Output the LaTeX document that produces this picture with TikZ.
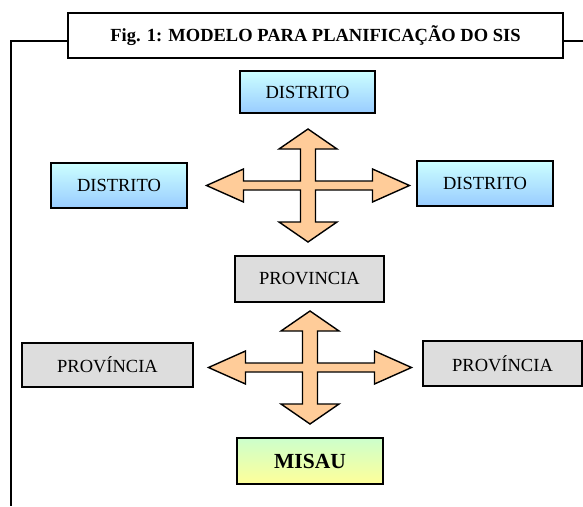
\documentclass[tikz,border=0pt]{standalone}
\usepackage{fontspec}
\setmainfont{Liberation Serif}
\definecolor{distTop}{HTML}{CCFFFF}
\definecolor{distBot}{HTML}{99CCFF}
\definecolor{provGray}{HTML}{DDDDDD}
\definecolor{misTop}{HTML}{CCFFCC}
\definecolor{misBot}{HTML}{FFFF99}
\definecolor{peach}{HTML}{FFCC99}
\tikzset{
  box/.style={draw=black, line width=1.8pt, rectangle, inner sep=0pt, font=\fontsize{18.5}{20}\selectfont},
  distbox/.style={box, top color=distTop, bottom color=distBot},
  provbox/.style={box, fill=provGray},
  misbox/.style={box, top color=misTop, bottom color=misBot, font=\fontsize{21.5}{24}\selectfont\bfseries},
  titlebox/.style={draw=black, line width=1.5pt, fill=white, rectangle, inner sep=0pt, font=\fontsize{18.5}{20}\selectfont\bfseries},
  frameline/.style={draw=black, line width=1.5pt},
  crossarrow/.pic={
    \filldraw[fill=peach, draw=black, line width=1.4pt, line join=miter]
      (0,-56.5) -- (29,-36.5) -- (7.5,-36.5) -- (7.5,-4.5) -- (64.5,-4.5) -- (64.5,-16.5)
      -- (101.5,0) -- (64.5,16.5) -- (64.5,4.5) -- (7.5,4.5) -- (7.5,36.5) -- (29,36.5)
      -- (0,56.5) -- (-29,36.5) -- (-7.5,36.5) -- (-7.5,4.5) -- (-64.5,4.5) -- (-64.5,16.5)
      -- (-101.5,0) -- (-64.5,-16.5) -- (-64.5,-4.5) -- (-7.5,-4.5) -- (-7.5,-36.5) -- (-29,-36.5)
      -- cycle;
  }
}
\begin{document}
\begin{tikzpicture}[x=1pt, y=-1pt]
\useasboundingbox (0,0) rectangle (583,506);
% frame
\coordinate (fl) at (11,41);
\coordinate (fb) at (11,506);
\coordinate (fr) at (583,41);
\node[titlebox, minimum width=495pt, minimum height=45pt] (title) at (315.5,35.5) {Fig. 1: MODELO PARA PLANIFICAÇÃO DO SIS};
\draw[frameline] (title.west |- fl) -- (fl) -- (fb);
\draw[frameline] (title.east |- fr) -- (fr);
% district level
\node[distbox, minimum width=135pt, minimum height=42pt] (dtop) at (307.5,92) {DISTRITO};
\node[distbox, minimum width=136pt, minimum height=45pt] (dleft) at (119,185.5) {DISTRITO};
\node[distbox, minimum width=136pt, minimum height=45pt] (dright) at (485,183.5) {DISTRITO};
\pic at (308,185.5) {crossarrow};
% province level
\node[provbox, minimum width=149pt, minimum height=46pt] (ptop) at (309.5,279) {PROVINCIA};
\node[provbox, minimum width=171pt, minimum height=44pt] (pleft) at (107.5,365) {PROVÍNCIA};
\node[provbox, minimum width=159pt, minimum height=45pt] (pright) at (502.5,363.5) {PROVÍNCIA};
\pic at (310,367.5) {crossarrow};
% ministry
\node[misbox, minimum width=146pt, minimum height=46pt] (misau) at (310,461) {MISAU};
\end{tikzpicture}
\end{document}
